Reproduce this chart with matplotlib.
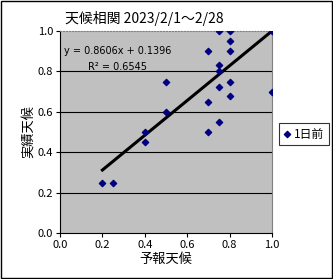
import numpy as np
import matplotlib.pyplot as plt

plt.rcParams['font.family'] = ['Noto Sans CJK JP', 'DejaVu Sans']

forecast = [0.75, 0.8, 1.0, 0.8, 0.7, 0.8, 0.75, 0.75, 0.5, 0.8, 0.75,
            1.0, 0.8, 0.7, 0.5, 0.75, 0.4, 0.7, 0.4, 0.2, 0.25]
actual = [1.0, 1.0, 1.0, 0.95, 0.9, 0.9, 0.83, 0.8, 0.75, 0.75, 0.725,
          0.7, 0.68, 0.65, 0.6, 0.55, 0.5, 0.5, 0.45, 0.25, 0.25]
slope, intercept = 0.8606, 0.1396
r2 = 0.6545

fig = plt.figure(figsize=(3.33, 2.79), dpi=100)
ax = fig.add_axes([60 / 333, 1 - 233 / 279, 212 / 333, 202 / 279])
ax.set_facecolor('#c0c0c0')

ax.set_xlim(0, 1)
ax.set_ylim(0, 1)
ax.set_xticks(np.arange(0, 1.01, 0.2))
ax.set_yticks(np.arange(0, 1.01, 0.2))
ax.set_xticklabels([f'{v:.1f}' for v in ax.get_xticks()])
ax.set_yticklabels([f'{v:.1f}' for v in ax.get_yticks()])
ax.tick_params(labelsize=8, length=3, direction='out', pad=2)
for y in [0.2, 0.4, 0.6, 0.8]:
    ax.axhline(y, color='black', lw=0.8, zorder=1)

ax.spines['top'].set_color('#808080')
ax.spines['top'].set_linestyle(':')
ax.spines['right'].set_color('#808080')
for s in ['left', 'bottom']:
    ax.spines[s].set_linewidth(0.8)

ax.scatter(forecast, actual, marker='D', s=10, color='#000080', zorder=3,
           label='1日前')
xs = np.array([min(forecast), max(forecast)])
ax.plot(xs, slope * xs + intercept, color='black', lw=2.2, zorder=2)

ax.text(0.02, 0.9, f'y = {slope}x + {intercept}', transform=ax.transAxes,
        fontsize=7, va='center', family='DejaVu Sans')
ax.text(0.13, 0.82, f'R² = {r2}', transform=ax.transAxes,
        fontsize=7, va='center', family='DejaVu Sans')

ax.set_xlabel('予報天候', fontsize=9.5, labelpad=2)
ax.set_ylabel('実績天候', fontsize=9.5, labelpad=2)
fig.text(65 / 333, 1 - 18 / 279, '天候相関 2023/2/1～2/28', fontsize=10,
         va='center')

leg = fig.legend(loc='center left', bbox_to_anchor=(273 / 333, 1 - 134 / 279),
                 fontsize=8.5, frameon=True, fancybox=False, handlelength=0.6,
                 handletextpad=0.3, borderpad=0.4, markerscale=1.0)
leg.get_frame().set_edgecolor('black')
leg.get_frame().set_linewidth(0.8)

fig.patches.append(plt.Rectangle((0.002, 0.002), 0.995, 0.995, fill=False,
                                 edgecolor='black', lw=1,
                                 transform=fig.transFigure))

fig.savefig('out.png', dpi=100)
